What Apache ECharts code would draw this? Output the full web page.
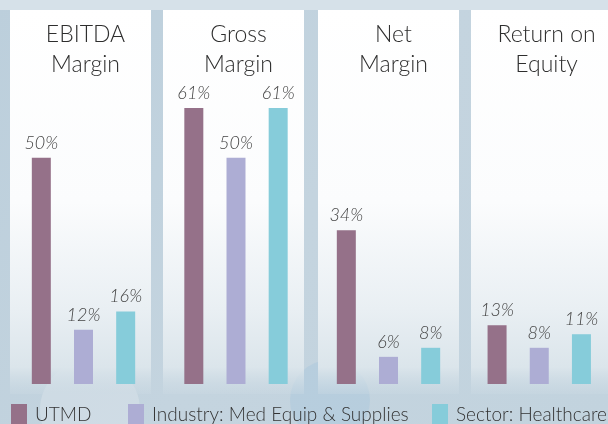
<!DOCTYPE html>
<html>
<head>
<meta charset="utf-8">
<script src="https://cdn.jsdelivr.net/npm/echarts@6/dist/echarts.min.js"></script>
<style>
  html, body { margin: 0; padding: 0; }
  #chart { width: 608px; height: 424px; }
</style>
</head>
<body>
<div id="chart"></div>
<script>
// 데이터
const metrics = ['EBITDA\nMargin', 'Gross\nMargin', 'Net\nMargin', 'Return on\nEquity'];
const groups = ['UTMD', 'Industry: Med Equip & Supplies', 'Sector: Healthcare'];
const utmd = [50, 61, 34, 13];
const industry = [12, 50, 6, 8];
const sector = [16, 61, 8, 11];

const colors = ['#957189', '#adadd4', '#86ccda'];
const values = [utmd, industry, sector];

const panelLeft = [10, 163, 318, 471];
const panelWidth = 141;
const gridLeft = [13, 165.5, 318, 470.5];
const font = 'Lato, "Open Sans", sans-serif';

const chart = echarts.init(document.getElementById('chart'));

const grids = [], xAxes = [], yAxes = [], series = [], titles = [], panels = [];

metrics.forEach((m, i) => {
    grids.push({ left: gridLeft[i], width: panelWidth, top: 22, bottom: 40 });
    xAxes.push({
        type: 'category', gridIndex: i, data: [m],
        axisLine: { show: false }, axisTick: { show: false }, axisLabel: { show: false }
    });
    yAxes.push({
        type: 'value', gridIndex: i, min: 0, max: 80,
        axisLine: { show: false }, axisTick: { show: false },
        axisLabel: { show: false }, splitLine: { show: false }
    });
    groups.forEach((g, k) => {
        series.push({
            name: g, type: 'bar', xAxisIndex: i, yAxisIndex: i,
            data: [values[k][i]],
            barWidth: 19, barGap: '122%',
            itemStyle: { color: colors[k] },
            label: {
                show: true, position: 'top', distance: 6,
                formatter: '{c}%',
                fontFamily: font, fontStyle: 'italic', fontWeight: 300,
                fontSize: 18, color: '#444'
            }
        });
    });
    titles.push({
        text: m,
        left: panelLeft[i] + panelWidth / 2, top: 15, textAlign: 'center',
        textStyle: { fontFamily: font, fontWeight: 300, fontSize: 23, lineHeight: 30, color: '#2e2e2e' }
    });
    // 패널 배경
    panels.push({
        type: 'rect', z: -10,
        shape: { x: panelLeft[i], y: 10, width: panelWidth, height: 384 },
        style: {
            fill: new echarts.graphic.LinearGradient(0, 0, 0, 1, [
                { offset: 0, color: '#ffffff' },
                { offset: 0.5, color: '#fbfcfd' },
                { offset: 0.78, color: '#e9eff3' },
                { offset: 0.93, color: '#dbe5eb' },
                { offset: 1, color: 'rgba(205,219,228,0.3)' }
            ])
        }
    });
});

const legendLeft = [11, 128, 432];
const legends = groups.map((g, k) => ({
    data: [g], left: legendLeft[k], top: 404, padding: 0,
    icon: 'rect', itemWidth: 16, itemHeight: 22,
    textStyle: { fontFamily: font, fontWeight: 300, fontSize: 19, color: '#333', padding: [0, 0, 0, 3] },
    selectedMode: false
}));

const options = {
    animation: false,
    backgroundColor: new echarts.graphic.LinearGradient(0, 0, 1, 1, [
        { offset: 0, color: '#bccfdc' },
        { offset: 0.5, color: '#c4d4df' },
        { offset: 1, color: '#c2d3de' }
    ]),
    title: titles,
    legend: legends,
    grid: grids,
    xAxis: xAxes,
    yAxis: yAxes,
    series: series,
    graphic: [
        { type: 'rect', z: -11, shape: { x: 0, y: 0, width: 608, height: 10 }, style: { fill: '#d6e1e9' } },
        { type: 'circle', z: -12, shape: { cx: 330, cy: 400, r: 40 }, style: { fill: 'rgba(160,195,220,0.35)' } },
        { type: 'circle', z: -12, shape: { cx: 90, cy: 410, r: 50 }, style: { fill: 'rgba(225,232,238,0.4)' } },
        ...panels
    ]
};

chart.setOption(options);
</script>
</body>
</html>
